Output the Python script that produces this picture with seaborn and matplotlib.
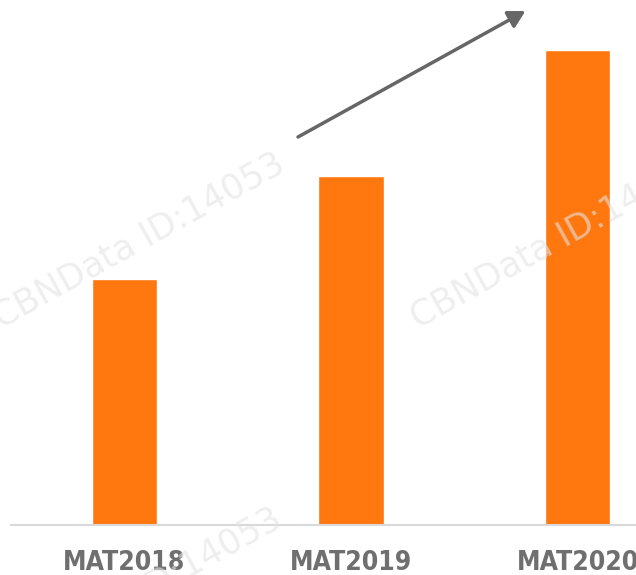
import matplotlib
matplotlib.use('Agg')
import matplotlib.pyplot as plt
import seaborn as sns
import pandas as pd

# Data (relative bar heights)
categories = ['MAT2018', 'MAT2019', 'MAT2020']
values = [2.46, 3.49, 4.75]

df = pd.DataFrame({'period': categories, 'value': values})

sns.set_style('white')
plt.rcParams['font.family'] = ['DejaVu Sans']

fig = plt.figure(figsize=(6.36, 5.75), dpi=100)
ax = fig.add_axes([11 / 636, 50 / 575, 625 / 636, 525 / 575])

sns.barplot(data=df, x='period', y='value', color='#FF770F', saturation=1,
            width=0.29, ax=ax)

ax.set_xlim(-0.501, 2.258)
ax.set_ylim(0, 5.25)
ax.set_xlabel('')
ax.set_ylabel('')
ax.set_yticks([])
ax.tick_params(axis='x', length=0, pad=18)
for lab in ax.get_xticklabels():
    lab.set_fontsize(19)
    lab.set_fontweight('bold')
    lab.set_fontstretch('condensed')
    lab.set_color('#6f6f6f')

sns.despine(ax=ax, left=True, top=True, right=True)
ax.spines['bottom'].set_color('#d9d9d9')
ax.spines['bottom'].set_linewidth(1.5)

# trend arrow
ax.annotate('', xy=(1.77, 5.14), xytext=(0.766, 3.88),
            arrowprops=dict(arrowstyle='-|>,head_length=1.0,head_width=0.55',
                            color='#666666', lw=2.5, shrinkA=0, shrinkB=0),
            annotation_clip=False)

# watermarks
wm = 'CBNData ID:14053'
for x, y in [(-12, 240), (405, 240), (-15, -115)]:
    fig.text(x / 636, y / 575, wm, rotation=29, fontsize=25,
             color='#e4e4e4', alpha=0.6, family='DejaVu Sans',
             ha='left', va='bottom', zorder=10)

fig.savefig('out.png', dpi=100)
